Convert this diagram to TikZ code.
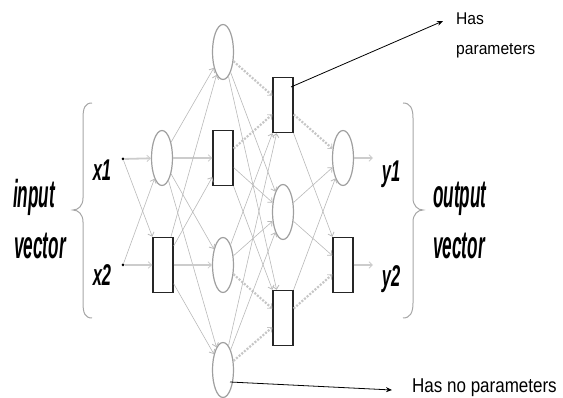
\documentclass[tikz,border=0pt]{standalone}
\usepackage{fontspec}
\setmainfont{Liberation Sans}
\usetikzlibrary{shapes.geometric,arrows.meta}
\begin{document}
\begin{tikzpicture}[x=1pt,y=-1pt,
  circ/.style={ellipse,draw=gray!75,line width=1.2pt,minimum width=21pt,minimum height=55pt,inner sep=0pt},
  sq/.style={rectangle,draw=black!85,line width=1.4pt,minimum width=20pt,minimum height=55pt,inner sep=0pt},
  tipg/.style={-{Straight Barb[length=3.5pt,width=6.5pt,line width=0.8pt]}},
  edge/.style={draw=gray!55,line width=0.6pt,tipg},
  dotedge/.style={draw=gray!45,line width=2.2pt,dash pattern=on 2pt off 1.5pt,tipg},
  hedge/.style={draw=gray!40,line width=1.8pt,tipg},
  biglab/.style={font=\fontsize{39}{41}\selectfont\bfseries\itshape,inner sep=0pt,anchor=base west},
  midlab/.style={font=\fontsize{30}{32}\selectfont\bfseries\itshape,inner sep=0pt,anchor=base},
  brace/.style={draw=gray!70,line width=1pt},
  callout/.style={draw=black,line width=0.8pt,-{Stealth[length=6pt,width=5pt]}},
  dot/.style={circle,fill=black,inner sep=0pt,minimum size=3pt}
]
\useasboundingbox (0,0) rectangle (563,398);

% layer 1
\node[circ] (c1) at (162,158) {};
\node[sq]   (r1) at (163,265) {};
% layer 2
\node[circ] (a) at (223,52) {};
\node[sq]   (b) at (223,158) {};
\node[circ] (c) at (223,265) {};
\node[circ] (d) at (223,370) {};
% layer 3
\node[sq]   (p) at (283,105) {};
\node[circ] (m) at (283,212) {};
\node[sq]   (q) at (283,318) {};
% layer 4
\node[circ] (o1) at (343,158) {};
\node[sq]   (o2) at (343,265) {};

% inputs
\node[dot] (i1) at (123,159) {};
\node[dot] (i2) at (123,265) {};
\node[midlab] (x1) at (102,181) {\scalebox{0.55}[1]{x1}};
\node[midlab] (x2) at (102,286) {\scalebox{0.55}[1]{x2}};

% outputs
\coordinate (e1) at (373,158);
\coordinate (e2) at (373,265);
\node[midlab] (y1) at (391,182) {\scalebox{0.55}[1]{y1}};
\node[midlab] (y2) at (391,287) {\scalebox{0.55}[1]{y2}};

% input edges
\draw[hedge] (i1) -- (c1);
\draw[edge] (i1) -- (r1);
\draw[edge] (i2) -- (c1);
\draw[hedge] (i2) -- (r1);

% layer 1 -> 2
\draw[edge] (c1) -- (a);
\draw[hedge] (c1) -- (b);
\draw[edge] (c1) -- (c);
\draw[edge] (c1) -- (d);
\draw[edge] (r1) -- (a);
\draw[edge] (r1) -- (b);
\draw[hedge] (r1) -- (c);
\draw[edge] (r1) -- (d);

% layer 2 -> 3
\draw[dotedge] (a) -- (p);
\draw[edge] (a) -- (m);
\draw[edge] (a) -- (q);
\draw[dotedge] (b) -- (p);
\draw[edge] (b) -- (m);
\draw[edge] (b) -- (q);
\draw[edge] (c) -- (p);
\draw[edge] (c) -- (m);
\draw[dotedge] (c) -- (q);
\draw[edge] (d) -- (p);
\draw[edge] (d) -- (m);
\draw[dotedge] (d) -- (q);

% layer 3 -> 4
\draw[dotedge] (p) -- (o1);
\draw[edge] (p) -- (o2);
\draw[edge] (m) -- (o1);
\draw[edge] (m) -- (o2);
\draw[edge] (q) -- (o1);
\draw[dotedge] (q) -- (o2);

% outputs
\draw[hedge] (o1) -- (e1);
\draw[hedge] (o2) -- (e2);

% braces
\draw[brace] (92,103) .. controls (85,103) and (83,108) .. (83,118) -- (83,198)
  .. controls (83,206) and (78,210) .. (73,210) .. controls (78,210) and (83,214) .. (83,222)
  -- (83,303) .. controls (83,313) and (85,318) .. (92,318);
\draw[brace] (403,103) .. controls (410,103) and (413,108) .. (413,118) -- (413,198)
  .. controls (413,206) and (418,210) .. (423,210) .. controls (418,210) and (413,214) .. (413,222)
  -- (413,303) .. controls (413,313) and (410,318) .. (403,318);

% vector labels
\node[biglab] (inp) at (13,208) {\scalebox{0.44}[1]{input}};
\node[biglab] (vin) at (14,259) {\scalebox{0.44}[1]{vector}};
\node[biglab] (outp) at (433,208) {\scalebox{0.44}[1]{output}};
\node[biglab] (vout) at (433,259) {\scalebox{0.44}[1]{vector}};

% callouts
\node[font=\fontsize{17}{19}\selectfont,inner sep=0pt,anchor=base west] (hp1) at (456,25) {\scalebox{0.92}[1]{Has}};
\node[font=\fontsize{17}{19}\selectfont,inner sep=0pt,anchor=base west] (hp2) at (456,55) {\scalebox{0.92}[1]{parameters}};
\coordinate (hps) at (291,87);
\coordinate (hpe) at (443,21);
\draw[callout] (hps) -- (hpe);

\node[font=\fontsize{20}{22}\selectfont,inner sep=0pt,anchor=base west] (hnp) at (412,393) {\scalebox{0.85}[1]{Has no parameters}};
\coordinate (hns) at (230,382);
\coordinate (hne) at (392,390);
\draw[callout] (hns) -- (hne);
\end{tikzpicture}
\end{document}
